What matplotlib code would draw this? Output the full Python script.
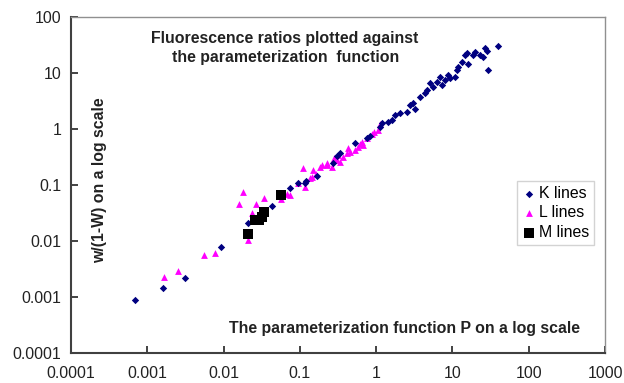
import numpy as np
import matplotlib
matplotlib.use("Agg")
import matplotlib.pyplot as plt

plt.rcParams['font.family'] = ['Liberation Sans', 'DejaVu Sans']

# K lines (P, w/(1-w))
k_x = [0.00069, 0.00159, 0.00312, 0.0092, 0.0211, 0.0425, 0.0741, 0.0944, 0.122, 0.166,
       0.272, 0.336, 0.527, 0.83, 1.12, 1.19, 1.43, 1.60, 1.76, 2.05,
       2.51, 2.77, 3.06, 3.23, 3.75, 4.36, 4.59, 5.07, 5.60, 6.21,
       6.86, 7.22, 7.98, 8.81, 9.27, 10.8, 11.4, 11.9, 13.2, 14.6,
       15.3, 16.1, 18.7, 19.7, 22.9, 24.9, 26.7, 28.1, 29.4, 39.1,
       0.75, 0.31, 0.118]
k_y = [0.00088, 0.00147, 0.00216, 0.0079, 0.0207, 0.0417, 0.0873, 0.110, 0.118, 0.145,
       0.247, 0.373, 0.562, 0.75, 1.10, 1.28, 1.35, 1.45, 1.78, 1.91,
       2.04, 2.68, 2.95, 2.25, 3.78, 4.34, 4.97, 6.55, 5.69, 7.0,
       8.6, 6.1, 7.5, 9.2, 8.0, 8.6, 11.3, 12.9, 15.7, 21.0,
       22.5, 14.5, 21.0, 24.0, 21.0, 19.5, 27.6, 25.2, 11.1, 30.4,
       0.70, 0.33, 0.107]

# L lines
l_x = [0.00166, 0.00252, 0.00553, 0.0077, 0.0181, 0.0159, 0.0266, 0.0334, 0.0233, 0.0209,
       0.0741, 0.0574, 0.118, 0.109, 0.143, 0.163, 0.149, 0.183, 0.224, 0.193,
       0.261, 0.303, 0.315, 0.367, 0.410, 0.454, 0.527, 0.577, 0.671, 0.646,
       0.750, 0.873, 1.06, 1.12, 0.336, 0.0935, 0.135, 0.224, 0.28, 0.43,
       0.62, 0.95, 0.068]
l_y = [0.0023, 0.00288, 0.00556, 0.0062, 0.075, 0.045, 0.046, 0.059, 0.032, 0.0104,
       0.065, 0.056, 0.093, 0.199, 0.141, 0.157, 0.185, 0.212, 0.228, 0.228,
       0.212, 0.279, 0.343, 0.320, 0.368, 0.394, 0.422, 0.483, 0.518, 0.593,
       0.682, 0.814, 0.96, 1.23, 0.261, 0.107, 0.133, 0.244, 0.30, 0.45,
       0.55, 0.88, 0.07]

# M lines
m_x = [0.0211, 0.0258, 0.0294, 0.0315, 0.0334, 0.0574]
m_y = [0.0132, 0.0237, 0.0237, 0.0272, 0.0334, 0.065]

fig = plt.figure(figsize=(6.24, 3.83), dpi=100)
ax = fig.add_axes([0.1138, 0.0783, 0.8558, 0.8773])

ax.scatter(k_x, k_y, marker='D', s=14, color='#000080', label='K lines', zorder=3, linewidths=0)
ax.scatter(l_x, l_y, marker='^', s=24, color='#FF00FF', label='L lines', zorder=2, linewidths=0)
ax.scatter(m_x, m_y, marker='s', s=60, color='black', label='M lines', zorder=4, linewidths=0)

ax.set_xscale('log')
ax.set_yscale('log')
ax.set_xlim(0.0001, 1000)
ax.set_ylim(0.0001, 100)

xt = [0.0001, 0.001, 0.01, 0.1, 1, 10, 100, 1000]
xl = ['0.0001', '0.001', '0.01', '0.1', '1', '10', '100', '1000']
yt = [0.0001, 0.001, 0.01, 0.1, 1, 10, 100]
yl = ['0.0001', '0.001', '0.01', '0.1', '1', '10', '100']
ax.set_xticks(xt)
ax.set_xticklabels(xl)
ax.set_yticks(yt)
ax.set_yticklabels(yl)
ax.minorticks_off()
ax.tick_params(axis='both', labelsize=11.4, colors='#222222', direction='in', length=5, width=1.2)
ax.tick_params(axis='x', pad=9)
ax.tick_params(axis='y', pad=7)

for s in ['left', 'bottom']:
    ax.spines[s].set_color('#404040')
    ax.spines[s].set_linewidth(1.5)
for s in ['top', 'right']:
    ax.spines[s].set_color('#909090')
    ax.spines[s].set_linewidth(1.0)

ax.text(0.401, 0.908, 'Fluorescence ratios plotted against\nthe parameterization  function',
        transform=ax.transAxes, ha='center', va='center', fontsize=11.4, fontweight='bold',
        color='#222222', linespacing=1.4)
ax.text(0.054, 0.515, 'w/(1-W) on a log scale', transform=ax.transAxes, rotation=90,
        ha='center', va='center', fontsize=11.4, fontweight='bold', color='#222222')
ax.text(0.625, 0.074, 'The parameterization function P on a log scale', transform=ax.transAxes,
        ha='center', va='center', fontsize=11.4, fontweight='bold', color='#222222')

leg = ax.legend(loc='upper left', bbox_to_anchor=(0.836, 0.512), fontsize=11.4, frameon=True,
                fancybox=False, edgecolor='#c8c8c8', handletextpad=0.15, borderpad=0.3,
                labelspacing=0.3, handlelength=0.9, borderaxespad=0)
leg.get_frame().set_linewidth(1.0)

fig.savefig('out.png', dpi=100)
